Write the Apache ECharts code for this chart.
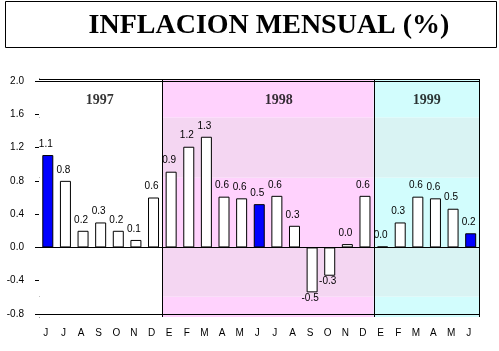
<!DOCTYPE html>
<html>
<head>
<meta charset="utf-8">
<script src="https://cdn.jsdelivr.net/npm/echarts@6/dist/echarts.min.js"></script>
<style>html,body{margin:0;padding:0;background:#fff;}#c{width:499px;height:351px;}</style>
</head>
<body>
<div id="c"></div>
<script>
// ---- data ----
const months = ['J','J','A','S','O','N','D','E','F','M','A','M','J','J','A','S','O','N','D','E','F','M','A','M','J'];
const inflation = [1.11,0.80,0.20,0.30,0.20,0.09,0.60, 0.91,1.21,1.33,0.61,0.59,0.52,0.62,0.26,-0.54,-0.34,0.04,0.62, 0.01,0.30,0.61,0.59,0.465,0.17];
const highlighted = [0,12,24]; // June of each year, drawn in blue
const years = ['1997','1998','1999'];
const yearStart = [0,7,19];
const yearEnd = [7,19,25];
const yTicks = [-0.8,-0.4,0.0,0.4,0.8,1.2,1.6,2.0];
const titleText = 'INFLACION MENSUAL (%)';

// ---- layout / style ----
const yMin = -0.836, yMax = 2.024;
const yearLabelX = [3.45, 13.6, 22.0];
const yearLabelY = 1.77;
const stripeBreaks = [yMin, -0.59, 0, 0.84, 1.56, yMax];
const bandBase = ['#ffffff', '#ffd2fd', '#d2fdfd'];
const bandAlt  = ['#ffffff', '#f4d6f2', '#d9f3f3'];
const font = "'Liberation Sans', Arial, sans-serif";

const bandData = [];
years.forEach((y, i) => {
  for (let s = 0; s < stripeBreaks.length - 1; s++) {
    bandData.push([yearStart[i], yearEnd[i], stripeBreaks[s], stripeBreaks[s+1], (s % 2 === 0) ? bandBase[i] : bandAlt[i]]);
  }
});

const barData = inflation.map((v, i) => ({
  value: v,
  itemStyle: { color: highlighted.includes(i) ? '#0000ff' : '#ffffff' },
  label: v < 0 ? { position: 'bottom', distance: 1 } : undefined
}));

const chart = echarts.init(document.getElementById('c'), null, { renderer: 'canvas' });
chart.setOption({
  animation: false,
  backgroundColor: '#fff',
  graphic: [
    { type: 'rect', shape: { x: 5.5, y: 1.5, width: 491, height: 46 }, style: { fill: '#fff', stroke: '#000', lineWidth: 1 }, z: 0 },
    { type: 'text', x: 269, y: 26, style: { text: titleText, font: "bold 28px 'Liberation Serif', 'Times New Roman', serif", fill: '#000', align: 'center', verticalAlign: 'middle' }, z: 1 }
  ],
  grid: { left: 39, right: 19.5, top: 79, height: 238, show: false },
  xAxis: [
    { type: 'category', data: months, position: 'bottom', boundaryGap: true,
      axisLine: { show: false }, axisTick: { show: false },
      axisLabel: { color: '#000', fontFamily: font, fontSize: 10, margin: 11, interval: 0, padding: [0, 4, 0, 0] } },
    { type: 'value', min: 0, max: 25, show: false }
  ],
  yAxis: {
    type: 'value', min: yMin, max: yMax,
    axisLine: { show: true, onZero: false, lineStyle: { color: '#000', width: 1 } },
    axisTick: { show: true, length: 4, customValues: yTicks, lineStyle: { color: '#000' } },
    axisLabel: { customValues: yTicks, color: '#000', fontFamily: font, fontSize: 10, margin: 15, formatter: v => v.toFixed(1) },
    splitLine: { show: false }
  },
  series: [
    {
      type: 'custom', xAxisIndex: 1, yAxisIndex: 0, z: 1, silent: true,
      data: bandData,
      renderItem: (params, api) => {
        const p1 = api.coord([api.value(0), api.value(3)]);
        const p2 = api.coord([api.value(1), api.value(2)]);
        return { type: 'rect', shape: { x: p1[0], y: p1[1], width: p2[0]-p1[0], height: p2[1]-p1[1] }, style: { fill: bandData[params.dataIndex][4] } };
      },
      markLine: {
        silent: true, symbol: 'none', label: { show: false }, z: 6,
        lineStyle: { color: '#000', width: 1, type: 'solid' },
        data: [
          { xAxis: yearStart[1] }, { xAxis: yearStart[2] }, { xAxis: yearEnd[2] },
          { yAxis: yTicks[yTicks.length-1] }, { yAxis: 0 }, { yAxis: yTicks[0] },
          { yAxis: yMax }, { yAxis: yMin }
        ]
      }
    },
    {
      type: 'scatter', xAxisIndex: 1, yAxisIndex: 0, z: 4, symbolSize: 0, silent: true,
      data: years.map((y, i) => ({ value: [yearLabelX[i], yearLabelY], name: y })),
      label: { show: true, position: 'inside', formatter: p => p.name, color: '#000', fontFamily: "'Liberation Serif', 'Times New Roman', serif", fontWeight: 'bold', fontSize: 14 }
    },
    {
      type: 'bar', xAxisIndex: 0, yAxisIndex: 0, z: 3, barWidth: 11,
      data: barData,
      itemStyle: { borderColor: '#000', borderWidth: 1 },
      label: { show: true, position: 'top', distance: 6, offset: [-2, 0], color: '#000', fontFamily: font, fontSize: 10, formatter: p => p.value.toFixed(1) }
    }
  ]
});
</script>
</body>
</html>
